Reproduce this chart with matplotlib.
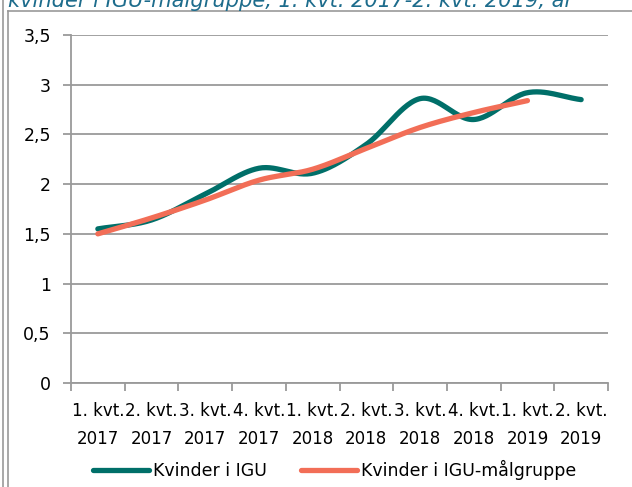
import numpy as np
import matplotlib
matplotlib.use("Agg")
import matplotlib.pyplot as plt
from matplotlib.lines import Line2D

categories = ["1. kvt.\n2017", "2. kvt.\n2017", "3. kvt.\n2017", "4. kvt.\n2017",
              "1. kvt.\n2018", "2. kvt.\n2018", "3. kvt.\n2018", "4. kvt.\n2018",
              "1. kvt.\n2019", "2. kvt.\n2019"]
igu = [1.55, 1.64, 1.90, 2.16, 2.11, 2.40, 2.86, 2.65, 2.92, 2.85]
maalgruppe = [1.50, 1.66, 1.84, 2.04, 2.15, 2.36, 2.57, 2.72, 2.84]
yticks = [0, 0.5, 1, 1.5, 2, 2.5, 3, 3.5]
ytick_labels = ["0", "0,5", "1", "1,5", "2", "2,5", "3", "3,5"]
series_names = ["Kvinder i IGU", "Kvinder i IGU-målgruppe"]
title = "kvinder i IGU-målgruppe, 1. kvt. 2017-2. kvt. 2019, år"

TEAL = "#006f69"
ORANGE = "#f26e57"
GRID = "#9a9a9a"
FONT = "DejaVu Sans"
FS = 12


def smooth(x, y, n=30):
    """Catmull-Rom style smoothing like Excel's smoothed line."""
    x = np.asarray(x, float)
    y = np.asarray(y, float)
    px = np.concatenate([[2 * x[0] - x[1]], x, [2 * x[-1] - x[-2]]])
    py = np.concatenate([[2 * y[0] - y[1]], y, [2 * y[-1] - y[-2]]])
    xs, ys = [], []
    for i in range(1, len(px) - 2):
        t = np.linspace(0, 1, n, endpoint=(i == len(px) - 3))
        def cr(a):
            a0, a1, a2, a3 = a[i - 1], a[i], a[i + 1], a[i + 2]
            return 0.5 * ((2 * a1) + (-a0 + a2) * t +
                          (2 * a0 - 5 * a1 + 4 * a2 - a3) * t ** 2 +
                          (-a0 + 3 * a1 - 3 * a2 + a3) * t ** 3)
        xs.append(cr(px))
        ys.append(cr(py))
    return np.concatenate(xs), np.concatenate(ys)


fig = plt.figure(figsize=(6.32, 4.87), dpi=100)
ax = fig.add_axes([71 / 632, 1 - 383 / 487, (608 - 71) / 632, (383 - 35) / 487])

n = len(categories)
xpos = np.arange(n) + 0.5
sx, sy = smooth(xpos, igu)
ax.plot(sx, sy, color=TEAL, lw=3.8, solid_capstyle="round", zorder=3)
sx2, sy2 = smooth(xpos[:len(maalgruppe)], maalgruppe)
ax.plot(sx2, sy2, color=ORANGE, lw=3.8, solid_capstyle="round", zorder=4)

ax.set_xlim(0, n)
ax.set_ylim(0, 3.5)
ax.set_yticks(yticks)
ax.set_yticklabels(ytick_labels, fontname=FONT, fontsize=12.5)
ax.set_xticks(np.arange(n + 1))
ax.set_xticklabels([])
ax.set_xticks(xpos, minor=True)
ax.set_xticklabels(categories, minor=True, fontname=FONT, fontsize=FS,
                   linespacing=1.7)
ax.tick_params(axis="x", which="minor", length=0, pad=14)
ax.tick_params(axis="x", which="major", length=6, color=GRID, width=1.3)
ax.tick_params(axis="y", length=6, color=GRID, width=1.3, pad=8.5)
ax.grid(axis="y", color=GRID, lw=1.3)
ax.set_axisbelow(True)
for s in ["top", "right"]:
    ax.spines[s].set_visible(False)
for s in ["left", "bottom"]:
    ax.spines[s].set_color(GRID)
    ax.spines[s].set_linewidth(1.3)

handles = [Line2D([], [], color=TEAL, lw=3.8, solid_capstyle="round"),
           Line2D([], [], color=ORANGE, lw=3.8, solid_capstyle="round")]
fig.legend(handles, series_names,
           loc="center left", bbox_to_anchor=(93 / 632, 1 - 470 / 487), ncol=2,
           frameon=False, prop={"family": FONT, "size": 12.5},
           handlelength=3.2, handletextpad=0.23, columnspacing=2.0,
           borderaxespad=0, borderpad=0)

# partially visible title and outer frame
t = fig.text(8 / 632, 1 - 7 / 487, title, fontname=FONT, fontsize=14,
             style="italic", color="#1d6c8c", ha="left", va="baseline")
fig.canvas.draw()
w = t.get_window_extent().width
t.set_fontsize(14 * 567 / w)

fig.add_artist(Line2D([8 / 632, 1], [1 - 11 / 487] * 2, color="#999999", lw=1.2,
                      transform=fig.transFigure))
fig.add_artist(Line2D([7.5 / 632] * 2, [0, 1 - 11 / 487], color="#999999", lw=1.2,
                      transform=fig.transFigure))
fig.add_artist(Line2D([3 / 632] * 2, [0, 1], color="#999999", lw=1.2,
                      transform=fig.transFigure))

fig.savefig("out.png", dpi=100)
